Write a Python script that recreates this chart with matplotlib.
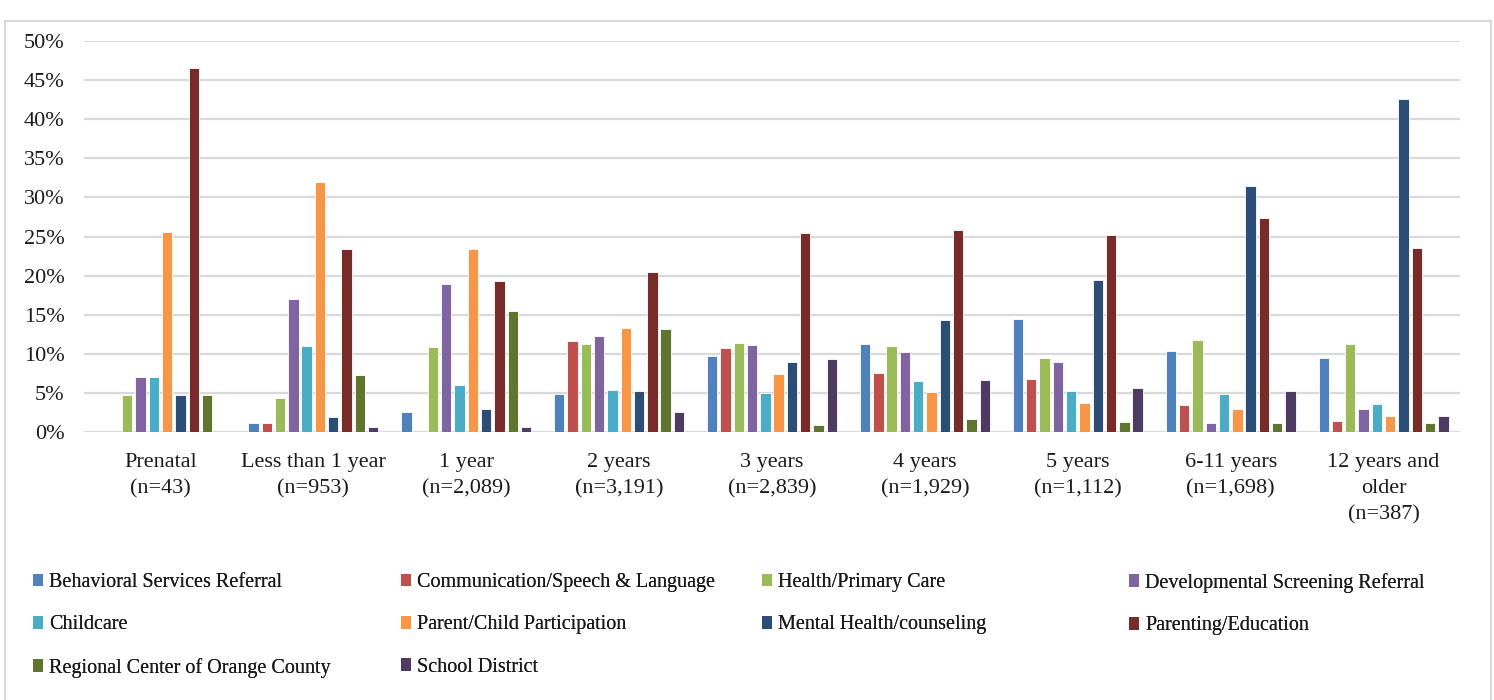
import matplotlib.pyplot as plt
import numpy as np
from matplotlib.patches import Patch, Rectangle

plt.rcParams['font.family'] = ['Liberation Serif', 'DejaVu Serif']

AGE_GROUPS = ["Prenatal\n(n=43)", "Less than 1 year\n(n=953)", "1 year\n(n=2,089)",
              "2 years\n(n=3,191)", "3 years\n(n=2,839)", "4 years\n(n=1,929)",
              "5 years\n(n=1,112)", "6-11 years\n(n=1,698)", "12 years and\nolder\n(n=387)"]

SERIES = ["Behavioral Services Referral", "Communication/Speech & Language",
          "Health/Primary Care", "Developmental Screening Referral", "Childcare",
          "Parent/Child Participation", "Mental Health/counseling", "Parenting/Education",
          "Regional Center of Orange County", "School District"]

COLORS = ["#4F81BD", "#C0504D", "#9BBB59", "#8064A2", "#4BACC6",
          "#F79646", "#2C4D75", "#772C2A", "#5F7530", "#4D3B62"]

# percent of referrals per age group, one list per series
behavioral = [0, 1.2, 2.5, 4.9, 9.7, 11.3, 14.5, 10.4, 9.5]
communication = [0, 1.2, 0, 11.6, 10.8, 7.6, 6.8, 3.5, 1.4]
health = [4.7, 4.3, 10.9, 11.3, 11.4, 11.0, 9.5, 11.8, 11.3]
developmental = [7.0, 17.0, 18.9, 12.3, 11.1, 10.2, 8.9, 1.2, 2.9]
childcare = [7.0, 11.0, 6.0, 5.4, 5.0, 6.5, 5.2, 4.9, 3.6]
parent_child = [25.6, 32.0, 23.4, 13.3, 7.4, 5.1, 3.7, 3.0, 2.0]
mental_health = [4.7, 1.9, 3.0, 5.2, 8.9, 14.3, 19.5, 31.5, 42.6]
parenting = [46.6, 23.4, 19.3, 20.5, 25.4, 25.8, 25.2, 27.4, 23.5]
regional = [4.7, 7.3, 15.5, 13.2, 0.9, 1.7, 1.3, 1.2, 1.1]
school = [0, 0.7, 0.7, 2.5, 9.3, 6.7, 5.6, 5.3, 2.0]

VALUES = [behavioral, communication, health, developmental, childcare,
          parent_child, mental_health, parenting, regional, school]

fig = plt.figure(figsize=(14.94, 7.0), dpi=100)
ax = fig.add_axes([84 / 1494, 1 - 432 / 700, 1376 / 1494, 391 / 700])

x = np.arange(len(AGE_GROUPS))
step = 0.087
for i, (vals, color) in enumerate(zip(VALUES, COLORS)):
    ax.bar(x + (i - 4.5) * step, vals, width=step * 0.78, color=color,
           edgecolor="white", linewidth=0.6, zorder=3)

ax.set_xlim(-0.5, len(AGE_GROUPS) - 0.5)
ax.set_ylim(0, 50)
ax.set_yticks(np.arange(0, 51, 5))
ax.set_yticklabels([f"{v}%" for v in range(0, 51, 5)])
ax.set_xticks(x)
ax.set_xticklabels(AGE_GROUPS, linespacing=1.5)
ax.tick_params(axis="both", length=0, labelsize=16, colors="#1a1a1a")
ax.tick_params(axis="y", pad=14)
ax.tick_params(axis="x", pad=15)
ax.grid(axis="y", color="#d9d9d9", linewidth=1.6, zorder=0)
for s in ax.spines.values():
    s.set_visible(False)

# legend: four columns laid out row by row
cols = [[0, 4, 8], [1, 5, 9], [2, 6], [3, 7]]
col_x = [33, 401, 762, 1129]
for cx, idx in zip(col_x, cols):
    handles = [Patch(facecolor=COLORS[k], edgecolor="none") for k in idx]
    leg = fig.legend(handles, [SERIES[k] for k in idx], loc="upper left",
                     bbox_to_anchor=(cx / 1494, 1 - 573 / 700), frameon=False,
                     fontsize=14.5, handlelength=0.5, handleheight=0.6,
                     handletextpad=0.3, labelspacing=1.16, borderaxespad=0,
                     borderpad=0)
    for t in leg.get_texts():
        t.set_color("#1a1a1a")
    fig.add_artist(leg)

fig.patches.append(Rectangle((5 / 1494, -0.01), 1486 / 1494, 1 - 21 / 700 + 0.01,
                             transform=fig.transFigure, fill=False,
                             edgecolor="#d9d9d9", linewidth=1.5))

fig.savefig("out.png", dpi=100)
